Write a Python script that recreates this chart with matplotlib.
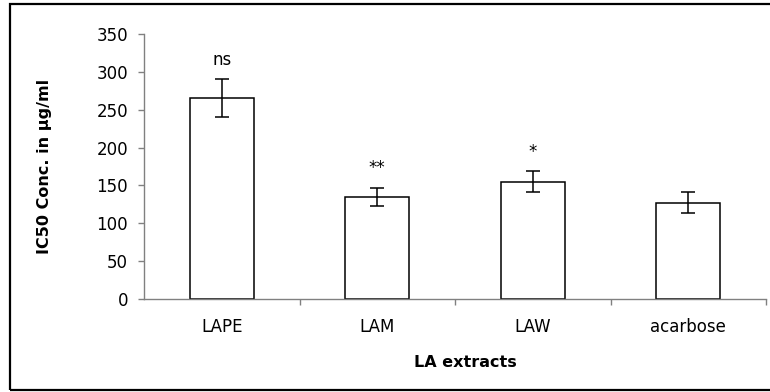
import matplotlib
matplotlib.use("Agg")
import matplotlib.pyplot as plt
from matplotlib.patches import Rectangle

plt.rcParams['font.family'] = ['DejaVu Sans']

categories = ["LAPE", "LAM", "LAW", "acarbose"]
values = [265, 135, 155, 127]
errors = [25, 12, 14, 14]
marks = ["ns", "**", "*", ""]
yticks = [0, 50, 100, 150, 200, 250, 300, 350]

fig = plt.figure(figsize=(7.7, 3.92), dpi=100)
ax = fig.add_axes([144/770, 1-299/392, (766-144)/770, 265/392])

x = range(len(categories))
ax.bar(x, values, width=0.41, color="white", edgecolor="black", linewidth=1.1, zorder=2)
ax.errorbar(x, values, yerr=errors, fmt="none", ecolor="black", elinewidth=1.1,
            capsize=4.7, capthick=1.1, zorder=3)
for xi, v, e, m in zip(x, values, errors, marks):
    if m:
        ax.text(xi, v + e + 19, m, ha="center", va="baseline", fontsize=12)

ax.set_xlim(-0.5, len(categories) - 0.5)
ax.set_ylim(0, 350)
ax.set_yticks(yticks)
ax.set_xticks(list(x))
ax.set_xticklabels(categories, fontsize=12)
ax.set_xticks([i + 0.5 for i in range(len(categories))], minor=True)
ax.tick_params(axis="x", which="major", length=0, pad=14)
ax.tick_params(axis="x", which="minor", length=4.5, color="#808080", width=1)
ax.tick_params(axis="y", length=4.5, color="#808080", width=1, labelsize=12, pad=7)
for s in ["top", "right"]:
    ax.spines[s].set_visible(False)
for s in ["left", "bottom"]:
    ax.spines[s].set_color("#808080")
    ax.spines[s].set_linewidth(1)

ax.set_ylabel("IC50 Conc. in µg/ml", fontsize=11.5, fontweight="bold")
ax.yaxis.set_label_coords(-0.148, 0.502)
ax.set_xlabel("LA extracts", fontsize=11.5, fontweight="bold")
ax.xaxis.set_label_coords(0.516, -0.211)

fig.patches.append(Rectangle((9.5/770, 1-390/392), 1.0, (390-3.5)/392,
                             transform=fig.transFigure, fill=False,
                             edgecolor="black", linewidth=1.6))

fig.savefig("out.png", dpi=100)
